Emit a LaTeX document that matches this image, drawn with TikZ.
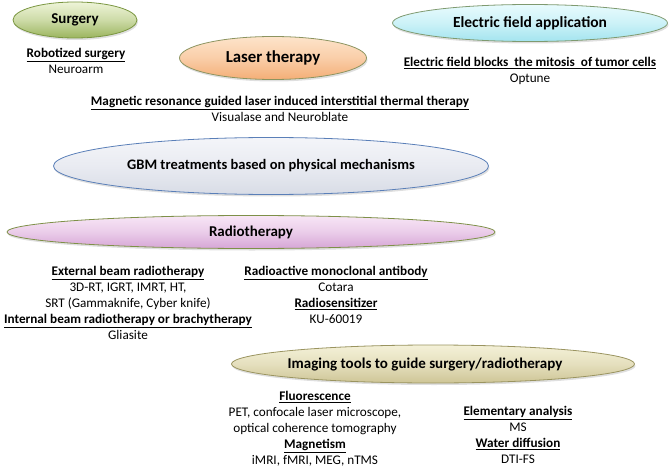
\documentclass[tikz,border=0pt]{standalone}
\usepackage{fontspec}
\setmainfont{Carlito}
\usetikzlibrary{shapes.geometric,shadows}
\definecolor{surgT}{HTML}{EEF4D8}\definecolor{surgB}{HTML}{9BB55E}\definecolor{surgD}{HTML}{7A9640}
\definecolor{lasT}{HTML}{FDE3CA}\definecolor{lasB}{HTML}{F4AE76}\definecolor{lasD}{HTML}{8C9460}
\definecolor{eleT}{HTML}{E8FBFD}\definecolor{eleB}{HTML}{A3E4EF}\definecolor{eleD}{HTML}{7F9A70}
\definecolor{gbmT}{HTML}{F4F5F9}\definecolor{gbmB}{HTML}{D8DCE6}\definecolor{gbmD}{HTML}{5A7FB8}
\definecolor{radT}{HTML}{F8E6F6}\definecolor{radB}{HTML}{D6A6D6}\definecolor{radD}{HTML}{7E9048}
\definecolor{imgT}{HTML}{F4F1D8}\definecolor{imgB}{HTML}{CEC596}\definecolor{imgD}{HTML}{9A9460}
\tikzset{
  oval/.style n args={3}{ellipse, draw=#3, line width=0.8pt, top color=#1, bottom color=#2, middle color=#1!60!#2, inner sep=0pt,
     drop shadow={shadow xshift=1pt, shadow yshift=-2pt, opacity=0.25}},
  head/.style={font=\bfseries\fontsize{15}{16}\selectfont},
  txt/.style={align=center, font=\fontsize{13.2}{16}\selectfont, inner sep=0pt},
}
\newcommand{\ul}[1]{\textbf{\underline{#1}}}
\begin{document}
\begin{tikzpicture}[x=1pt,y=-1pt]
\useasboundingbox (0,0) rectangle (669,468);
% ovals
\node[oval={surgT}{surgB}{surgD}, minimum width=124pt, minimum height=36pt, head] (surg) at (75,20) {Surgery};
\node[oval={lasT}{lasB}{lasD}, minimum width=187pt, minimum height=43pt, head, font=\bfseries\fontsize{16.8}{18}\selectfont] (laser) at (273,58) {Laser therapy};
\node[oval={eleT}{eleB}{eleD}, minimum width=275pt, minimum height=37pt, head, font=\bfseries\fontsize{15.5}{18}\selectfont] (elec) at (530,23) {Electric field application};
\node[oval={gbmT}{gbmB}{gbmD}, minimum width=435pt, minimum height=57pt, head, font=\bfseries\fontsize{14.5}{16}\selectfont] (gbm) at (271,166) {GBM treatments based on physical mechanisms};
\node[oval={radT}{radB}{radD}, minimum width=488pt, minimum height=33pt, head] (radio) at (251,232) {Radiotherapy};
\node[oval={imgT}{imgB}{imgD}, minimum width=403pt, minimum height=38pt] (img) at (433,364) {};
\node[head, inner sep=0pt] (imgt) at (425,365) {Imaging tools to guide surgery/radiotherapy};
% texts
\node[txt] (robot) at (76,61) {\ul{Robotized surgery}\\Neuroarm};
\node[txt] (mrg) at (280,109) {\ul{Magnetic resonance guided laser induced interstitial thermal therapy}\\Visualase and Neuroblate};
\node[txt] (efb) at (530,71) {\ul{Electric field blocks\ \ the mitosis\ \ of tumor cells}\\Optune};
\node[txt] (ext) at (128,303) {\ul{External beam radiotherapy}\\3D-RT, IGRT, IMRT, HT,\\SRT (Gammaknife, Cyber knife)\\\ul{Internal beam radiotherapy or brachytherapy}\\Gliasite};
\node[txt] (rma) at (336,295) {\ul{Radioactive monoclonal antibody}\\Cotara\\\ul{Radiosensitizer}\\KU-60019};
\node[txt] (fluo) at (315,429) {\ul{Fluorescence}\\PET, confocale laser microscope,\\optical coherence tomography\\\ul{Magnetism}\\iMRI, fMRI, MEG, nTMS};
\node[txt] (elem) at (518,435) {\ul{Elementary analysis}\\MS\\\ul{Water diffusion}\\DTI-FS};
\end{tikzpicture}
\end{document}
